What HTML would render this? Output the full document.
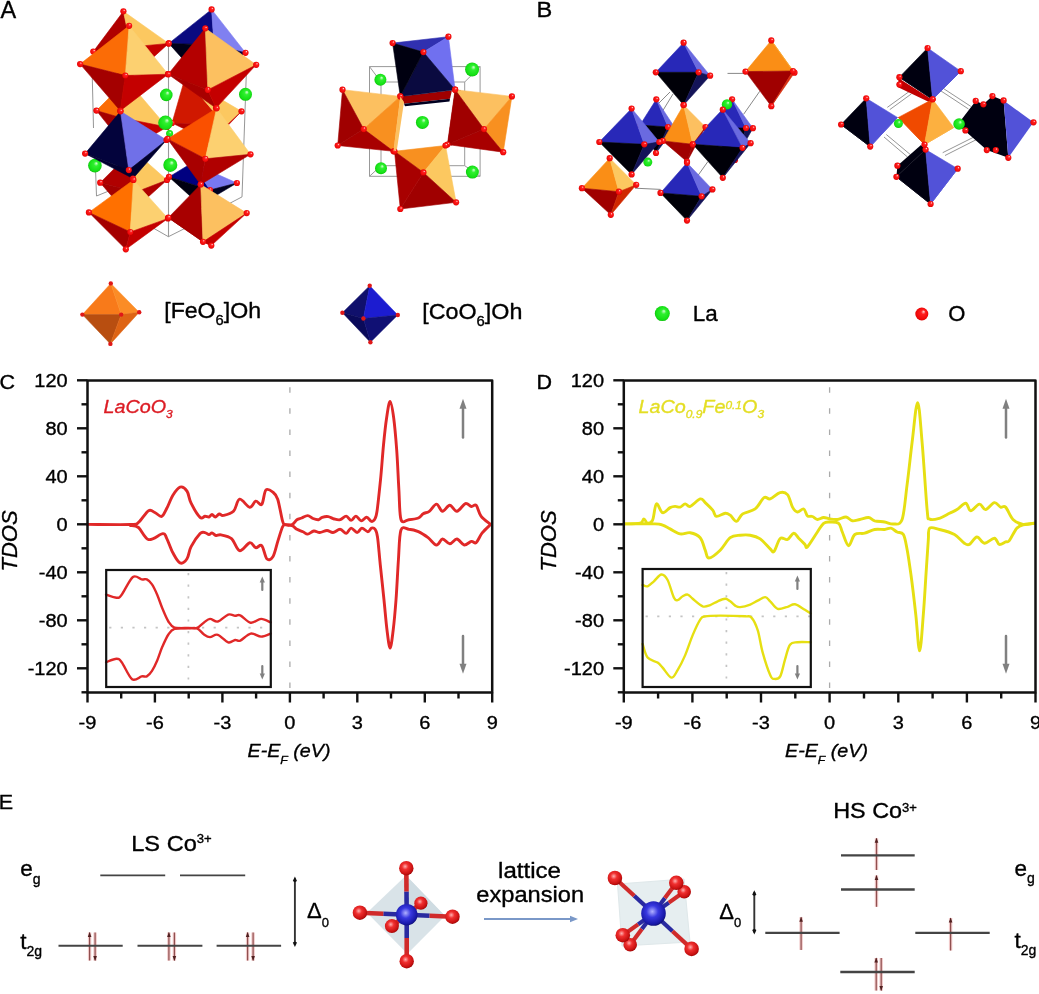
<!DOCTYPE html>
<html><head><meta charset="utf-8"><title>Figure</title>
<style>html,body{margin:0;padding:0;background:#fff;overflow:hidden;}svg{display:block;filter:blur(0.4px);}text{font-family:"Liberation Sans",Arial,sans-serif;stroke-width:0.35px;stroke-linejoin:round;}</style>
</head><body>
<svg width="1039" height="994" viewBox="0 0 1039 994">
<rect width="1039" height="994" fill="#fff"/>
<defs>
<radialGradient id="gO" cx="0.42" cy="0.38" r="0.62"><stop offset="0" stop-color="#ffb0b0"/><stop offset="0.35" stop-color="#f03030"/><stop offset="0.85" stop-color="#c81010"/><stop offset="1" stop-color="#a00808"/></radialGradient>
<radialGradient id="gOd" cx="0.5" cy="0.5" r="0.55" fx="0.66" fy="0.3"><stop offset="0" stop-color="#ffe0e0"/><stop offset="0.3" stop-color="#ff2020"/><stop offset="0.8" stop-color="#f00808"/><stop offset="1" stop-color="#d00000"/></radialGradient>
<radialGradient id="gCo" cx="0.45" cy="0.42" r="0.6"><stop offset="0" stop-color="#b0b0ff"/><stop offset="0.4" stop-color="#3838e0"/><stop offset="0.85" stop-color="#1818a8"/><stop offset="1" stop-color="#101070"/></radialGradient>
<radialGradient id="gLa" cx="0.5" cy="0.5" r="0.55" fx="0.62" fy="0.32"><stop offset="0" stop-color="#d8ffd8"/><stop offset="0.3" stop-color="#30f030"/><stop offset="0.8" stop-color="#14e014"/><stop offset="1" stop-color="#0cb00c"/></radialGradient>
</defs>
<path d="M92,66 L93.5,128" fill="none" stroke="#8a8a8a" stroke-width="0.9"/>
<path d="M95.2,160 L96.5,196 L119.8,186.5" fill="none" stroke="#8a8a8a" stroke-width="0.9"/>
<path d="M168.5,44 L168.5,236.7" fill="none" stroke="#9a9a9a" stroke-width="1.1"/>
<path d="M246.8,60 L242,196.9 L227.3,204.6" fill="none" stroke="#8a8a8a" stroke-width="0.9"/>
<path d="M144.1,222.8 L168.4,236.7 L190.9,225.4" fill="none" stroke="#8a8a8a" stroke-width="0.9"/>
<path d="M123.4,11.3 L93.3,51.6 L131,47 Z" fill="#b00000" stroke="#b00000" stroke-width="0.6" stroke-linejoin="round"/>
<path d="M123.4,11.3 L131,47 L168.7,43.4 Z" fill="#fcc860" stroke="#fcc860" stroke-width="0.6" stroke-linejoin="round"/>
<path d="M93.3,51.6 L131,47 L126,82 Z" fill="#a40000" stroke="#a40000" stroke-width="0.6" stroke-linejoin="round"/>
<path d="M131,47 L168.7,43.4 L126,82 Z" fill="#c40000" stroke="#c40000" stroke-width="0.6" stroke-linejoin="round"/>
<circle cx="123.4" cy="11.3" r="3.1" fill="url(#gOd)"/>
<circle cx="93.3" cy="51.6" r="3.1" fill="url(#gOd)"/>
<circle cx="168.7" cy="43.4" r="3.1" fill="url(#gOd)"/>
<circle cx="131" cy="47" r="3.1" fill="url(#gOd)"/>
<circle cx="126" cy="82" r="3.1" fill="url(#gOd)"/>
<path d="M211.6,9.4 L168.8,43.4 L214,45 Z" fill="#0a0a80" stroke="#0a0a80" stroke-width="0.6" stroke-linejoin="round"/>
<path d="M211.6,9.4 L214,45 L245.5,52.8 Z" fill="#8080f0" stroke="#8080f0" stroke-width="0.6" stroke-linejoin="round"/>
<path d="M168.8,43.4 L214,45 L206,85 Z" fill="#000018" stroke="#000018" stroke-width="0.6" stroke-linejoin="round"/>
<path d="M214,45 L245.5,52.8 L206,85 Z" fill="#000040" stroke="#000040" stroke-width="0.6" stroke-linejoin="round"/>
<circle cx="211.6" cy="9.4" r="3.1" fill="url(#gOd)"/>
<circle cx="168.8" cy="43.4" r="3.1" fill="url(#gOd)"/>
<circle cx="245.5" cy="52.8" r="3.1" fill="url(#gOd)"/>
<circle cx="214" cy="45" r="3.1" fill="url(#gOd)"/>
<circle cx="206" cy="85" r="3.1" fill="url(#gOd)"/>
<path d="M127,80 L96.4,110.6 L122,118 Z" fill="#fb6c06" stroke="#fb6c06" stroke-width="0.6" stroke-linejoin="round"/>
<path d="M127,80 L122,118 L167,127 Z" fill="#fcc860" stroke="#fcc860" stroke-width="0.6" stroke-linejoin="round"/>
<path d="M96.4,110.6 L122,118 L128,150 Z" fill="#a40000" stroke="#a40000" stroke-width="0.6" stroke-linejoin="round"/>
<path d="M122,118 L167,127 L128,150 Z" fill="#c40000" stroke="#c40000" stroke-width="0.6" stroke-linejoin="round"/>
<circle cx="127" cy="80" r="3.1" fill="url(#gOd)"/>
<circle cx="96.4" cy="110.6" r="3.1" fill="url(#gOd)"/>
<circle cx="167" cy="127" r="3.1" fill="url(#gOd)"/>
<circle cx="122" cy="118" r="3.1" fill="url(#gOd)"/>
<circle cx="128" cy="150" r="3.1" fill="url(#gOd)"/>
<path d="M185,78 L172,123 L226,126 Z" fill="#d01800" stroke="#d01800" stroke-width="0.6" stroke-linejoin="round"/>
<path d="M185,78 L226,126 L241.5,111.3 Z" fill="#fcc860" stroke="#fcc860" stroke-width="0.6" stroke-linejoin="round"/>
<path d="M172,123 L226,126 L212,142 Z" fill="#b00000" stroke="#b00000" stroke-width="0.6" stroke-linejoin="round"/>
<path d="M226,126 L241.5,111.3 L212,142 Z" fill="#c40000" stroke="#c40000" stroke-width="0.6" stroke-linejoin="round"/>
<circle cx="185" cy="78" r="3.1" fill="url(#gOd)"/>
<circle cx="172" cy="123" r="3.1" fill="url(#gOd)"/>
<circle cx="241.5" cy="111.3" r="3.1" fill="url(#gOd)"/>
<circle cx="226" cy="126" r="3.1" fill="url(#gOd)"/>
<circle cx="212" cy="142" r="3.1" fill="url(#gOd)"/>
<path d="M133,150 L100.2,182.7 L136,192 Z" fill="#b00000" stroke="#b00000" stroke-width="0.6" stroke-linejoin="round"/>
<path d="M133,150 L136,192 L167,180 Z" fill="#fcc860" stroke="#fcc860" stroke-width="0.6" stroke-linejoin="round"/>
<path d="M100.2,182.7 L136,192 L128,215 Z" fill="#a40000" stroke="#a40000" stroke-width="0.6" stroke-linejoin="round"/>
<path d="M136,192 L167,180 L128,215 Z" fill="#b00000" stroke="#b00000" stroke-width="0.6" stroke-linejoin="round"/>
<circle cx="133" cy="150" r="3.1" fill="url(#gOd)"/>
<circle cx="100.2" cy="182.7" r="3.1" fill="url(#gOd)"/>
<circle cx="167" cy="180" r="3.1" fill="url(#gOd)"/>
<circle cx="136" cy="192" r="3.1" fill="url(#gOd)"/>
<circle cx="128" cy="215" r="3.1" fill="url(#gOd)"/>
<path d="M192,163 L169,176.9 L210,190 Z" fill="#000080" stroke="#000080" stroke-width="0.6" stroke-linejoin="round"/>
<path d="M192,163 L210,190 L236.9,183 Z" fill="#7878f0" stroke="#7878f0" stroke-width="0.6" stroke-linejoin="round"/>
<path d="M169,176.9 L210,190 L200,205 Z" fill="#000010" stroke="#000010" stroke-width="0.6" stroke-linejoin="round"/>
<path d="M210,190 L236.9,183 L200,205 Z" fill="#000020" stroke="#000020" stroke-width="0.6" stroke-linejoin="round"/>
<circle cx="192" cy="163" r="3.1" fill="url(#gOd)"/>
<circle cx="169" cy="176.9" r="3.1" fill="url(#gOd)"/>
<circle cx="236.9" cy="183" r="3.1" fill="url(#gOd)"/>
<circle cx="210" cy="190" r="3.1" fill="url(#gOd)"/>
<circle cx="200" cy="205" r="3.1" fill="url(#gOd)"/>
<circle cx="166.3" cy="94.9" r="6.3" fill="url(#gLa)"/>
<circle cx="245.5" cy="94.3" r="6.5" fill="url(#gLa)"/>
<circle cx="165.5" cy="122.8" r="7.3" fill="url(#gLa)"/>
<circle cx="169.6" cy="133.5" r="3.5" fill="url(#gLa)"/>
<circle cx="94.9" cy="165.6" r="6.8" fill="url(#gLa)"/>
<circle cx="170.3" cy="164.9" r="7.0" fill="url(#gLa)"/>
<path d="M129.1,25.8 L80.1,64.1 L125.3,75.5 Z" fill="#fb6c06" stroke="#fb6c06" stroke-width="0.6" stroke-linejoin="round"/>
<path d="M129.1,25.8 L125.3,75.5 L168.1,74.2 Z" fill="#fcd070" stroke="#fcd070" stroke-width="0.6" stroke-linejoin="round"/>
<path d="M80.1,64.1 L125.3,75.5 L120.3,110.7 Z" fill="#a40000" stroke="#a40000" stroke-width="0.6" stroke-linejoin="round"/>
<path d="M125.3,75.5 L168.1,74.2 L120.3,110.7 Z" fill="#c40000" stroke="#c40000" stroke-width="0.6" stroke-linejoin="round"/>
<circle cx="129.1" cy="25.8" r="3.1" fill="url(#gOd)"/>
<circle cx="80.1" cy="64.1" r="3.1" fill="url(#gOd)"/>
<circle cx="168.1" cy="74.2" r="3.1" fill="url(#gOd)"/>
<circle cx="125.3" cy="75.5" r="3.1" fill="url(#gOd)"/>
<circle cx="120.3" cy="110.7" r="3.1" fill="url(#gOd)"/>
<path d="M205.3,28.3 L168.2,74.2 L207.8,89.9 Z" fill="#b40000" stroke="#b40000" stroke-width="0.6" stroke-linejoin="round"/>
<path d="M205.3,28.3 L207.8,89.9 L256.2,64.8 Z" fill="#fcc060" stroke="#fcc060" stroke-width="0.6" stroke-linejoin="round"/>
<path d="M168.2,74.2 L207.8,89.9 L216,108.1 Z" fill="#a80000" stroke="#a80000" stroke-width="0.6" stroke-linejoin="round"/>
<path d="M207.8,89.9 L256.2,64.8 L216,108.1 Z" fill="#c40000" stroke="#c40000" stroke-width="0.6" stroke-linejoin="round"/>
<circle cx="205.3" cy="28.3" r="3.1" fill="url(#gOd)"/>
<circle cx="168.2" cy="74.2" r="3.1" fill="url(#gOd)"/>
<circle cx="256.2" cy="64.8" r="3.1" fill="url(#gOd)"/>
<circle cx="207.8" cy="89.9" r="3.1" fill="url(#gOd)"/>
<circle cx="216" cy="108.1" r="3.1" fill="url(#gOd)"/>
<path d="M120.5,111.3 L85.1,153.6 L128.8,170.1 Z" fill="#03033c" stroke="#03033c" stroke-width="0.6" stroke-linejoin="round"/>
<path d="M120.5,111.3 L128.8,170.1 L166.5,140 Z" fill="#7070e8" stroke="#7070e8" stroke-width="0.6" stroke-linejoin="round"/>
<path d="M85.1,153.6 L128.8,170.1 L133,178.5 Z" fill="#000030" stroke="#000030" stroke-width="0.6" stroke-linejoin="round"/>
<path d="M128.8,170.1 L166.5,140 L133,178.5 Z" fill="#000030" stroke="#000030" stroke-width="0.6" stroke-linejoin="round"/>
<circle cx="120.5" cy="111.3" r="3.1" fill="url(#gOd)"/>
<circle cx="85.1" cy="153.6" r="3.1" fill="url(#gOd)"/>
<circle cx="166.5" cy="140" r="3.1" fill="url(#gOd)"/>
<circle cx="128.8" cy="170.1" r="3.1" fill="url(#gOd)"/>
<circle cx="133" cy="178.5" r="3.1" fill="url(#gOd)"/>
<path d="M216.6,108.3 L167.5,138.9 L205.3,158.8 Z" fill="#fa5000" stroke="#fa5000" stroke-width="0.6" stroke-linejoin="round"/>
<path d="M216.6,108.3 L205.3,158.8 L250.5,154.3 Z" fill="#fcd070" stroke="#fcd070" stroke-width="0.6" stroke-linejoin="round"/>
<path d="M167.5,138.9 L205.3,158.8 L200.7,184.5 Z" fill="#a80000" stroke="#a80000" stroke-width="0.6" stroke-linejoin="round"/>
<path d="M205.3,158.8 L250.5,154.3 L200.7,184.5 Z" fill="#b00000" stroke="#b00000" stroke-width="0.6" stroke-linejoin="round"/>
<circle cx="216.6" cy="108.3" r="3.1" fill="url(#gOd)"/>
<circle cx="167.5" cy="138.9" r="3.1" fill="url(#gOd)"/>
<circle cx="250.5" cy="154.3" r="3.1" fill="url(#gOd)"/>
<circle cx="205.3" cy="158.8" r="3.1" fill="url(#gOd)"/>
<circle cx="200.7" cy="184.5" r="3.1" fill="url(#gOd)"/>
<path d="M133.4,180 L88.9,212.4 L130.3,232 Z" fill="#ff7000" stroke="#ff7000" stroke-width="0.6" stroke-linejoin="round"/>
<path d="M133.4,180 L130.3,232 L168,218.4 Z" fill="#fcd070" stroke="#fcd070" stroke-width="0.6" stroke-linejoin="round"/>
<path d="M88.9,212.4 L130.3,232 L125.8,249.3 Z" fill="#a40000" stroke="#a40000" stroke-width="0.6" stroke-linejoin="round"/>
<path d="M130.3,232 L168,218.4 L125.8,249.3 Z" fill="#c40000" stroke="#c40000" stroke-width="0.6" stroke-linejoin="round"/>
<circle cx="133.4" cy="180" r="3.1" fill="url(#gOd)"/>
<circle cx="88.9" cy="212.4" r="3.1" fill="url(#gOd)"/>
<circle cx="168" cy="218.4" r="3.1" fill="url(#gOd)"/>
<circle cx="130.3" cy="232" r="3.1" fill="url(#gOd)"/>
<circle cx="125.8" cy="249.3" r="3.1" fill="url(#gOd)"/>
<path d="M200.7,184.5 L168.3,217.7 L203,241.8 Z" fill="#a80000" stroke="#a80000" stroke-width="0.6" stroke-linejoin="round"/>
<path d="M200.7,184.5 L203,241.8 L246.7,213.1 Z" fill="#fcc060" stroke="#fcc060" stroke-width="0.6" stroke-linejoin="round"/>
<path d="M168.3,217.7 L203,241.8 L211.3,245.6 Z" fill="#a40000" stroke="#a40000" stroke-width="0.6" stroke-linejoin="round"/>
<path d="M203,241.8 L246.7,213.1 L211.3,245.6 Z" fill="#c40000" stroke="#c40000" stroke-width="0.6" stroke-linejoin="round"/>
<circle cx="200.7" cy="184.5" r="3.1" fill="url(#gOd)"/>
<circle cx="168.3" cy="217.7" r="3.1" fill="url(#gOd)"/>
<circle cx="246.7" cy="213.1" r="3.1" fill="url(#gOd)"/>
<circle cx="203" cy="241.8" r="3.1" fill="url(#gOd)"/>
<circle cx="211.3" cy="245.6" r="3.1" fill="url(#gOd)"/>
<path d="M369.5,66.6 L480.1,66.6 L480.1,176.3 L369.5,176.3 L369.5,66.6" fill="none" stroke="#999" stroke-width="1.0"/>
<path d="M381,82 L464.7,82 L464.7,165.7 L381,165.7 L381,82" fill="none" stroke="#999" stroke-width="1.0"/>
<path d="M369.5,66.6 L381,82" fill="none" stroke="#999" stroke-width="1.0"/>
<path d="M480.1,66.6 L464.7,82" fill="none" stroke="#999" stroke-width="1.0"/>
<path d="M480.1,176.3 L464.7,165.7" fill="none" stroke="#999" stroke-width="1.0"/>
<path d="M369.5,176.3 L381,165.7" fill="none" stroke="#999" stroke-width="1.0"/>
<circle cx="380.4" cy="79.7" r="6.0" fill="url(#gLa)"/>
<circle cx="472.1" cy="69.5" r="7.0" fill="url(#gLa)"/>
<circle cx="381" cy="168.2" r="6.0" fill="url(#gLa)"/>
<circle cx="472.4" cy="172.1" r="6.5" fill="url(#gLa)"/>
<path d="M400.3,96.4 L452,90.2 L450,98.8 L404,103.8 Z" fill="#a00000"/>
<path d="M404,103.8 L450,98.8 L449.5,101.5 L405,106.3 Z" fill="#000020"/>
<path d="M392.6,43.1 L448.4,36.7 L423.4,52.1 Z" fill="#3030b0" stroke="#3030b0" stroke-width="0.6" stroke-linejoin="round"/>
<path d="M448.4,36.7 L455.1,89.7 L423.4,52.1 Z" fill="#7070f0" stroke="#7070f0" stroke-width="0.6" stroke-linejoin="round"/>
<path d="M455.1,89.7 L400.3,96.4 L423.4,52.1 Z" fill="#0a0a40" stroke="#0a0a40" stroke-width="0.6" stroke-linejoin="round"/>
<path d="M400.3,96.4 L392.6,43.1 L423.4,52.1 Z" fill="#000010" stroke="#000010" stroke-width="0.6" stroke-linejoin="round"/>
<circle cx="392.6" cy="43.1" r="3.1" fill="url(#gOd)"/>
<circle cx="448.4" cy="36.7" r="3.1" fill="url(#gOd)"/>
<circle cx="455.1" cy="89.7" r="3.1" fill="url(#gOd)"/>
<circle cx="400.3" cy="96.4" r="3.1" fill="url(#gOd)"/>
<circle cx="423.4" cy="52.1" r="3.1" fill="url(#gOd)"/>
<path d="M342.5,89.7 L400.3,96.4 L363.7,129.1 Z" fill="#fcc060" stroke="#fcc060" stroke-width="0.6" stroke-linejoin="round"/>
<path d="M400.3,96.4 L393.5,151.3 L363.7,129.1 Z" fill="#f89020" stroke="#f89020" stroke-width="0.6" stroke-linejoin="round"/>
<path d="M393.5,151.3 L337.7,145.5 L363.7,129.1 Z" fill="#a80000" stroke="#a80000" stroke-width="0.6" stroke-linejoin="round"/>
<path d="M337.7,145.5 L342.5,89.7 L363.7,129.1 Z" fill="#a00000" stroke="#a00000" stroke-width="0.6" stroke-linejoin="round"/>
<circle cx="342.5" cy="89.7" r="3.1" fill="url(#gOd)"/>
<circle cx="400.3" cy="96.4" r="3.1" fill="url(#gOd)"/>
<circle cx="393.5" cy="151.3" r="3.1" fill="url(#gOd)"/>
<circle cx="337.7" cy="145.5" r="3.1" fill="url(#gOd)"/>
<circle cx="363.7" cy="129.1" r="3.1" fill="url(#gOd)"/>
<path d="M447.4,144.5 L455.1,89.7 L461,90.5 L452,145.5 Z" fill="#a00000"/>
<path d="M455.1,89.7 L511.9,96.4 L484,129.1 Z" fill="#fcc060" stroke="#fcc060" stroke-width="0.6" stroke-linejoin="round"/>
<path d="M511.9,96.4 L503.2,152.2 L484,129.1 Z" fill="#f89020" stroke="#f89020" stroke-width="0.6" stroke-linejoin="round"/>
<path d="M503.2,152.2 L447.4,144.5 L484,129.1 Z" fill="#a80000" stroke="#a80000" stroke-width="0.6" stroke-linejoin="round"/>
<path d="M447.4,144.5 L455.1,89.7 L484,129.1 Z" fill="#a00000" stroke="#a00000" stroke-width="0.6" stroke-linejoin="round"/>
<circle cx="455.1" cy="89.7" r="3.1" fill="url(#gOd)"/>
<circle cx="511.9" cy="96.4" r="3.1" fill="url(#gOd)"/>
<circle cx="503.2" cy="152.2" r="3.1" fill="url(#gOd)"/>
<circle cx="447.4" cy="144.5" r="3.1" fill="url(#gOd)"/>
<circle cx="484" cy="129.1" r="3.1" fill="url(#gOd)"/>
<path d="M394.5,151.3 L445.5,145.5 L423.4,172.4 Z" fill="#f89020" stroke="#f89020" stroke-width="0.6" stroke-linejoin="round"/>
<path d="M445.5,145.5 L456.1,202.3 L423.4,172.4 Z" fill="#fcc860" stroke="#fcc860" stroke-width="0.6" stroke-linejoin="round"/>
<path d="M456.1,202.3 L400.3,209 L423.4,172.4 Z" fill="#a00000" stroke="#a00000" stroke-width="0.6" stroke-linejoin="round"/>
<path d="M400.3,209 L394.5,151.3 L423.4,172.4 Z" fill="#a80000" stroke="#a80000" stroke-width="0.6" stroke-linejoin="round"/>
<circle cx="394.5" cy="151.3" r="3.1" fill="url(#gOd)"/>
<circle cx="445.5" cy="145.5" r="3.1" fill="url(#gOd)"/>
<circle cx="456.1" cy="202.3" r="3.1" fill="url(#gOd)"/>
<circle cx="400.3" cy="209" r="3.1" fill="url(#gOd)"/>
<circle cx="423.4" cy="172.4" r="3.1" fill="url(#gOd)"/>
<path d="M400.3,96.4 L404,102 L397,149 L393.5,151.3 Z" fill="#fcc060"/>
<circle cx="422.4" cy="122.4" r="6.5" fill="url(#gLa)"/>
<path d="M727.5,73.4 L746,73.4" fill="none" stroke="#888" stroke-width="1.0"/>
<path d="M743.6,114.3 L759.8,91.2" fill="none" stroke="#888" stroke-width="1.0"/>
<path d="M635,188.2 L660.5,189.4" fill="none" stroke="#888" stroke-width="1.0"/>
<path d="M696.3,177.8 L707.8,161.7" fill="none" stroke="#888" stroke-width="1.0"/>
<path d="M670,92 L650,112" fill="none" stroke="#888" stroke-width="1.0"/>
<path d="M673,94 L662,112" fill="none" stroke="#888" stroke-width="1.0"/>
<path d="M656.3,99.3 L640,125 L668,127 Z" fill="#2828b8" stroke="#2828b8" stroke-width="0.6" stroke-linejoin="round"/>
<path d="M656.3,99.3 L668,127 L675,128 Z" fill="#6a6ae0" stroke="#6a6ae0" stroke-width="0.6" stroke-linejoin="round"/>
<path d="M640,125 L668,127 L656,153 Z" fill="#000008" stroke="#000008" stroke-width="0.6" stroke-linejoin="round"/>
<path d="M668,127 L675,128 L656,153 Z" fill="#141458" stroke="#141458" stroke-width="0.6" stroke-linejoin="round"/>
<circle cx="656.3" cy="99.3" r="3.1" fill="url(#gOd)"/>
<circle cx="640" cy="125" r="3.1" fill="url(#gOd)"/>
<circle cx="675" cy="128" r="3.1" fill="url(#gOd)"/>
<circle cx="668" cy="127" r="3.1" fill="url(#gOd)"/>
<circle cx="656" cy="153" r="3.1" fill="url(#gOd)"/>
<path d="M732.1,99.3 L705,128 L746,128 Z" fill="#2828b8" stroke="#2828b8" stroke-width="0.6" stroke-linejoin="round"/>
<path d="M732.1,99.3 L746,128 L752.9,128.2 Z" fill="#6a6ae0" stroke="#6a6ae0" stroke-width="0.6" stroke-linejoin="round"/>
<path d="M705,128 L746,128 L735,160 Z" fill="#000008" stroke="#000008" stroke-width="0.6" stroke-linejoin="round"/>
<path d="M746,128 L752.9,128.2 L735,160 Z" fill="#141458" stroke="#141458" stroke-width="0.6" stroke-linejoin="round"/>
<circle cx="732.1" cy="99.3" r="3.1" fill="url(#gOd)"/>
<circle cx="705" cy="128" r="3.1" fill="url(#gOd)"/>
<circle cx="752.9" cy="128.2" r="3.1" fill="url(#gOd)"/>
<circle cx="746" cy="128" r="3.1" fill="url(#gOd)"/>
<circle cx="735" cy="160" r="3.1" fill="url(#gOd)"/>
<circle cx="727" cy="104.4" r="5.2" fill="url(#gLa)"/>
<path d="M683.6,42.7 L655.8,72.3 L698.6,72.3 Z" fill="#2828b8" stroke="#2828b8" stroke-width="0.6" stroke-linejoin="round"/>
<path d="M683.6,42.7 L698.6,72.3 L710.1,75.7 Z" fill="#6a6ae0" stroke="#6a6ae0" stroke-width="0.6" stroke-linejoin="round"/>
<path d="M655.8,72.3 L698.6,72.3 L683.6,105.1 Z" fill="#000008" stroke="#000008" stroke-width="0.6" stroke-linejoin="round"/>
<path d="M698.6,72.3 L710.1,75.7 L683.6,105.1 Z" fill="#141458" stroke="#141458" stroke-width="0.6" stroke-linejoin="round"/>
<circle cx="683.6" cy="42.7" r="3.1" fill="url(#gOd)"/>
<circle cx="655.8" cy="72.3" r="3.1" fill="url(#gOd)"/>
<circle cx="710.1" cy="75.7" r="3.1" fill="url(#gOd)"/>
<circle cx="698.6" cy="72.3" r="3.1" fill="url(#gOd)"/>
<circle cx="683.6" cy="105.1" r="3.1" fill="url(#gOd)"/>
<path d="M771.3,40.4 L745.5,71.6 L793,71 Z" fill="#fa8e16" stroke="#fa8e16" stroke-width="0.6" stroke-linejoin="round"/>
<path d="M771.3,40.4 L793,71 L794.5,72.7 Z" fill="#f8a830" stroke="#f8a830" stroke-width="0.6" stroke-linejoin="round"/>
<path d="M745.5,71.6 L793,71 L771.3,106.2 Z" fill="#a00000" stroke="#a00000" stroke-width="0.6" stroke-linejoin="round"/>
<path d="M793,71 L794.5,72.7 L771.3,106.2 Z" fill="#d83010" stroke="#d83010" stroke-width="0.6" stroke-linejoin="round"/>
<circle cx="771.3" cy="40.4" r="3.1" fill="url(#gOd)"/>
<circle cx="745.5" cy="71.6" r="3.1" fill="url(#gOd)"/>
<circle cx="794.5" cy="72.7" r="3.1" fill="url(#gOd)"/>
<circle cx="793" cy="71" r="3.1" fill="url(#gOd)"/>
<circle cx="771.3" cy="106.2" r="3.1" fill="url(#gOd)"/>
<path d="M683.6,105.1 L662.8,140.9 L692.8,144.3 Z" fill="#fa8e16" stroke="#fa8e16" stroke-width="0.6" stroke-linejoin="round"/>
<path d="M683.6,105.1 L692.8,144.3 L705.5,127 Z" fill="#fcc060" stroke="#fcc060" stroke-width="0.6" stroke-linejoin="round"/>
<path d="M662.8,140.9 L692.8,144.3 L687,161.7 Z" fill="#a00000" stroke="#a00000" stroke-width="0.6" stroke-linejoin="round"/>
<path d="M692.8,144.3 L705.5,127 L687,161.7 Z" fill="#a00000" stroke="#a00000" stroke-width="0.6" stroke-linejoin="round"/>
<circle cx="683.6" cy="105.1" r="3.1" fill="url(#gOd)"/>
<circle cx="662.8" cy="140.9" r="3.1" fill="url(#gOd)"/>
<circle cx="705.5" cy="127" r="3.1" fill="url(#gOd)"/>
<circle cx="692.8" cy="144.3" r="3.1" fill="url(#gOd)"/>
<circle cx="687" cy="161.7" r="3.1" fill="url(#gOd)"/>
<path d="M631.6,108.5 L599.3,142 L644.3,144.3 Z" fill="#2828b8" stroke="#2828b8" stroke-width="0.6" stroke-linejoin="round"/>
<path d="M631.6,108.5 L644.3,144.3 L659.3,142 Z" fill="#6a6ae0" stroke="#6a6ae0" stroke-width="0.6" stroke-linejoin="round"/>
<path d="M599.3,142 L644.3,144.3 L631.6,174.4 Z" fill="#000008" stroke="#000008" stroke-width="0.6" stroke-linejoin="round"/>
<path d="M644.3,144.3 L659.3,142 L631.6,174.4 Z" fill="#141458" stroke="#141458" stroke-width="0.6" stroke-linejoin="round"/>
<circle cx="631.6" cy="108.5" r="3.1" fill="url(#gOd)"/>
<circle cx="599.3" cy="142" r="3.1" fill="url(#gOd)"/>
<circle cx="659.3" cy="142" r="3.1" fill="url(#gOd)"/>
<circle cx="644.3" cy="144.3" r="3.1" fill="url(#gOd)"/>
<circle cx="631.6" cy="174.4" r="3.1" fill="url(#gOd)"/>
<path d="M722.8,109.7 L692.8,144.3 L742.5,147.8 Z" fill="#2828b8" stroke="#2828b8" stroke-width="0.6" stroke-linejoin="round"/>
<path d="M722.8,109.7 L742.5,147.8 L750.6,143.2 Z" fill="#6a6ae0" stroke="#6a6ae0" stroke-width="0.6" stroke-linejoin="round"/>
<path d="M692.8,144.3 L742.5,147.8 L722.8,177.8 Z" fill="#000008" stroke="#000008" stroke-width="0.6" stroke-linejoin="round"/>
<path d="M742.5,147.8 L750.6,143.2 L722.8,177.8 Z" fill="#141458" stroke="#141458" stroke-width="0.6" stroke-linejoin="round"/>
<circle cx="722.8" cy="109.7" r="3.1" fill="url(#gOd)"/>
<circle cx="692.8" cy="144.3" r="3.1" fill="url(#gOd)"/>
<circle cx="750.6" cy="143.2" r="3.1" fill="url(#gOd)"/>
<circle cx="742.5" cy="147.8" r="3.1" fill="url(#gOd)"/>
<circle cx="722.8" cy="177.8" r="3.1" fill="url(#gOd)"/>
<circle cx="647.8" cy="162.1" r="4.5" fill="url(#gLa)"/>
<path d="M609.7,158.2 L581.9,188.2 L618.9,191.7 Z" fill="#fa8e16" stroke="#fa8e16" stroke-width="0.6" stroke-linejoin="round"/>
<path d="M609.7,158.2 L618.9,191.7 L636.2,184.8 Z" fill="#fcc860" stroke="#fcc860" stroke-width="0.6" stroke-linejoin="round"/>
<path d="M581.9,188.2 L618.9,191.7 L610.8,214.8 Z" fill="#a00000" stroke="#a00000" stroke-width="0.6" stroke-linejoin="round"/>
<path d="M618.9,191.7 L636.2,184.8 L610.8,214.8 Z" fill="#d02800" stroke="#d02800" stroke-width="0.6" stroke-linejoin="round"/>
<circle cx="609.7" cy="158.2" r="3.1" fill="url(#gOd)"/>
<circle cx="581.9" cy="188.2" r="3.1" fill="url(#gOd)"/>
<circle cx="636.2" cy="184.8" r="3.1" fill="url(#gOd)"/>
<circle cx="618.9" cy="191.7" r="3.1" fill="url(#gOd)"/>
<circle cx="610.8" cy="214.8" r="3.1" fill="url(#gOd)"/>
<path d="M687,162.8 L660.5,192.9 L701.6,196.3 Z" fill="#2828b8" stroke="#2828b8" stroke-width="0.6" stroke-linejoin="round"/>
<path d="M687,162.8 L701.6,196.3 L712.4,189.4 Z" fill="#6a6ae0" stroke="#6a6ae0" stroke-width="0.6" stroke-linejoin="round"/>
<path d="M660.5,192.9 L701.6,196.3 L687,220.6 Z" fill="#000008" stroke="#000008" stroke-width="0.6" stroke-linejoin="round"/>
<path d="M701.6,196.3 L712.4,189.4 L687,220.6 Z" fill="#141458" stroke="#141458" stroke-width="0.6" stroke-linejoin="round"/>
<circle cx="687" cy="162.8" r="3.1" fill="url(#gOd)"/>
<circle cx="660.5" cy="192.9" r="3.1" fill="url(#gOd)"/>
<circle cx="712.4" cy="189.4" r="3.1" fill="url(#gOd)"/>
<circle cx="701.6" cy="196.3" r="3.1" fill="url(#gOd)"/>
<circle cx="687" cy="220.6" r="3.1" fill="url(#gOd)"/>
<path d="M887.3,107.4 L909.5,91.3" fill="none" stroke="#8a8a8a" stroke-width="0.9"/>
<path d="M889.8,109.6 L911.5,93.8" fill="none" stroke="#8a8a8a" stroke-width="0.9"/>
<path d="M941.6,87.3 L970.8,106.4" fill="none" stroke="#8a8a8a" stroke-width="0.9"/>
<path d="M939.8,90.2 L968.5,109" fill="none" stroke="#8a8a8a" stroke-width="0.9"/>
<path d="M886.3,134.5 L910.5,154.7" fill="none" stroke="#8a8a8a" stroke-width="0.9"/>
<path d="M884,137 L907.5,157" fill="none" stroke="#8a8a8a" stroke-width="0.9"/>
<path d="M942.7,152.7 L974.8,136.6" fill="none" stroke="#8a8a8a" stroke-width="0.9"/>
<path d="M945,155.5 L977,139.3" fill="none" stroke="#8a8a8a" stroke-width="0.9"/>
<path d="M898.3,78 L933.1,100.3 L931.6,103.2 L898.6,87.6 Z" fill="#c00000"/>
<circle cx="899.4" cy="84.6" r="3.1" fill="url(#gOd)"/>
<path d="M927.6,48 L899.4,77.2 L932.6,99.3 Z" fill="#000010" stroke="#000010" stroke-width="0.6" stroke-linejoin="round"/>
<path d="M927.6,48 L932.6,99.3 L960.8,71.2 Z" fill="#5252d8" stroke="#5252d8" stroke-width="0.6" stroke-linejoin="round"/>
<path d="M899.4,77.2 L932.6,99.3 L932.6,99.3 Z" fill="#000010" stroke="#000010" stroke-width="0.6" stroke-linejoin="round"/>
<path d="M932.6,99.3 L960.8,71.2 L932.6,99.3 Z" fill="#5252d8" stroke="#5252d8" stroke-width="0.6" stroke-linejoin="round"/>
<circle cx="927.6" cy="48" r="3.1" fill="url(#gOd)"/>
<circle cx="899.4" cy="77.2" r="3.1" fill="url(#gOd)"/>
<circle cx="960.8" cy="71.2" r="3.1" fill="url(#gOd)"/>
<circle cx="932.6" cy="99.3" r="3.1" fill="url(#gOd)"/>
<path d="M957.7,124.4 L975.7,100.9 L983.4,104.3 L992.4,96.1 L1003.6,100.4 L1008.3,157.8 L986.8,150.1 Z" fill="#000010"/>
<path d="M1003.6,100.4 L1033.5,122.3 L1008.3,157.8 Z" fill="#5252d8"/>
<circle cx="975.7" cy="100.9" r="3.1" fill="url(#gOd)"/>
<circle cx="983.4" cy="104.3" r="3.1" fill="url(#gOd)"/>
<circle cx="992.4" cy="96.1" r="3.1" fill="url(#gOd)"/>
<circle cx="1003.6" cy="100.4" r="3.1" fill="url(#gOd)"/>
<circle cx="1033.5" cy="122.3" r="3.1" fill="url(#gOd)"/>
<circle cx="1008.3" cy="157.8" r="3.1" fill="url(#gOd)"/>
<circle cx="986.8" cy="150.1" r="3.1" fill="url(#gOd)"/>
<circle cx="995.8" cy="150.1" r="3.1" fill="url(#gOd)"/>
<circle cx="965.4" cy="130.4" r="3.1" fill="url(#gOd)"/>
<path d="M921,145 L925.6,149.6 L896.4,176.8 L897.4,165.7 Z" fill="#000010"/>
<path d="M925.6,149.6 L896.4,176.8 L930.6,204 Z" fill="#000010" stroke="#000010" stroke-width="0.6" stroke-linejoin="round"/>
<path d="M925.6,149.6 L930.6,204 L957.7,168.7 Z" fill="#5252d8" stroke="#5252d8" stroke-width="0.6" stroke-linejoin="round"/>
<path d="M896.4,176.8 L930.6,204 L930.6,204 Z" fill="#000010" stroke="#000010" stroke-width="0.6" stroke-linejoin="round"/>
<path d="M930.6,204 L957.7,168.7 L930.6,204 Z" fill="#5252d8" stroke="#5252d8" stroke-width="0.6" stroke-linejoin="round"/>
<circle cx="925.6" cy="149.6" r="3.1" fill="url(#gOd)"/>
<circle cx="896.4" cy="176.8" r="3.1" fill="url(#gOd)"/>
<circle cx="957.7" cy="168.7" r="3.1" fill="url(#gOd)"/>
<circle cx="930.6" cy="204" r="3.1" fill="url(#gOd)"/>
<circle cx="897.4" cy="165.7" r="3.1" fill="url(#gOd)"/>
<path d="M866.2,98.3 L841.1,124.5 L870.2,146.6 Z" fill="#000010" stroke="#000010" stroke-width="0.6" stroke-linejoin="round"/>
<path d="M866.2,98.3 L870.2,146.6 L897.4,117.4 Z" fill="#5252d8" stroke="#5252d8" stroke-width="0.6" stroke-linejoin="round"/>
<path d="M841.1,124.5 L870.2,146.6 L870.2,146.6 Z" fill="#000010" stroke="#000010" stroke-width="0.6" stroke-linejoin="round"/>
<path d="M870.2,146.6 L897.4,117.4 L870.2,146.6 Z" fill="#5252d8" stroke="#5252d8" stroke-width="0.6" stroke-linejoin="round"/>
<circle cx="866.2" cy="98.3" r="3.1" fill="url(#gOd)"/>
<circle cx="841.1" cy="124.5" r="3.1" fill="url(#gOd)"/>
<circle cx="870.2" cy="146.6" r="3.1" fill="url(#gOd)"/>
<path d="M932.6,99.3 L898.4,117.4 L924.5,144.6 Z" fill="#f04a00" stroke="#f04a00" stroke-width="0.6" stroke-linejoin="round"/>
<path d="M932.6,99.3 L924.5,144.6 L953.7,127.5 Z" fill="#fcb040" stroke="#fcb040" stroke-width="0.6" stroke-linejoin="round"/>
<path d="M898.4,117.4 L924.5,144.6 L924.5,144.6 Z" fill="#f04a00" stroke="#f04a00" stroke-width="0.6" stroke-linejoin="round"/>
<path d="M924.5,144.6 L953.7,127.5 L924.5,144.6 Z" fill="#fcb040" stroke="#fcb040" stroke-width="0.6" stroke-linejoin="round"/>
<circle cx="932.6" cy="99.3" r="3.1" fill="url(#gOd)"/>
<circle cx="924.5" cy="144.6" r="3.1" fill="url(#gOd)"/>
<circle cx="898.4" cy="123.5" r="4.5" fill="url(#gLa)"/>
<circle cx="959.1" cy="124" r="5.8" fill="url(#gLa)"/>
<path d="M110.8,283.4 L82.4,314.6 L121.2,314.6 Z" fill="#f87a1a" stroke="#f87a1a" stroke-width="0.5" stroke-linejoin="round"/>
<path d="M110.8,283.4 L121.2,314.6 L139.2,312.3 Z" fill="#fb8c26" stroke="#fb8c26" stroke-width="0.5" stroke-linejoin="round"/>
<path d="M82.4,314.6 L121.2,314.6 L110.4,343.9 Z" fill="#b84e10" stroke="#b84e10" stroke-width="0.5" stroke-linejoin="round"/>
<path d="M121.2,314.6 L139.2,312.3 L110.4,343.9 Z" fill="#de6414" stroke="#de6414" stroke-width="0.5" stroke-linejoin="round"/>
<circle cx="110.8" cy="283.4" r="2.2" fill="#e01818"/>
<circle cx="82.4" cy="314.6" r="2.2" fill="#e01818"/>
<circle cx="139.2" cy="312.3" r="2.2" fill="#e01818"/>
<circle cx="110.4" cy="343.9" r="2.2" fill="#e01818"/>
<circle cx="121.2" cy="314.6" r="2.2" fill="#e01818"/>
<path d="M369.7,285.7 L342.4,312.7 L363.4,318.5 Z" fill="#10106c" stroke="#10106c" stroke-width="0.5" stroke-linejoin="round"/>
<path d="M369.7,285.7 L363.4,318.5 L397.8,315 Z" fill="#1c1cd0" stroke="#1c1cd0" stroke-width="0.5" stroke-linejoin="round"/>
<path d="M342.4,312.7 L363.4,318.5 L370.4,342.3 Z" fill="#0a0a5a" stroke="#0a0a5a" stroke-width="0.5" stroke-linejoin="round"/>
<path d="M363.4,318.5 L397.8,315 L370.4,342.3 Z" fill="#101074" stroke="#101074" stroke-width="0.5" stroke-linejoin="round"/>
<circle cx="369.7" cy="285.7" r="2.2" fill="#e01818"/>
<circle cx="342.4" cy="312.7" r="2.2" fill="#e01818"/>
<circle cx="397.8" cy="315" r="2.2" fill="#e01818"/>
<circle cx="370.4" cy="342.3" r="2.2" fill="#e01818"/>
<circle cx="363.4" cy="318.5" r="2.2" fill="#e01818"/>
<text transform="translate(164.2,318.1) scale(1.052,1)" font-size="22" fill="#000" stroke="#000">[FeO<tspan font-size="14" dy="6.5">6</tspan><tspan dy="-6.5">]Oh</tspan></text>
<text transform="translate(422.2,319.4) scale(1.06,1)" font-size="22" fill="#000" stroke="#000">[CoO<tspan font-size="14" dy="6.5">6</tspan><tspan dy="-6.5">]Oh</tspan></text>
<circle cx="662.3" cy="313.6" r="7.5" fill="url(#gLa)"/>
<circle cx="921.8" cy="314" r="6.5" fill="url(#gOd)"/>
<text transform="translate(692.8,320.7) scale(1.02,1)" font-size="22" fill="#000" stroke="#000">La</text>
<text transform="translate(948.2,320.9) scale(1.0,1)" font-size="22" fill="#000" stroke="#000">O</text>
<text transform="translate(0.6,17.5) scale(1.02,1)" font-size="23" text-anchor="start" fill="#000" style=""  stroke="#000">A</text>
<text transform="translate(536.5,16.5) scale(1.05,1)" font-size="22.5" text-anchor="start" fill="#000" style=""  stroke="#000">B</text>
<text transform="translate(-0.6,389) scale(1.05,1)" font-size="20.5" text-anchor="start" fill="#000" style=""  stroke="#000">C</text>
<text transform="translate(536.6,389) scale(1.05,1)" font-size="20.5" text-anchor="start" fill="#000" style=""  stroke="#000">D</text>
<text transform="translate(-1.3,809) scale(1.05,1)" font-size="20.5" text-anchor="start" fill="#000" style=""  stroke="#000">E</text>
<line x1="289.9" y1="382.6" x2="289.9" y2="692.5" stroke="#aaa" stroke-width="1.3" stroke-dasharray="5.5,15.6" stroke-dashoffset="16.5"/>
<path d="M87.5,524.4 C94.7,524.4 121.9,524.8 130.4,524.5 C138.9,524.2 135.5,524.7 138.5,522.4 C141.5,520.1 145.8,512.3 148.6,510.7 C151.4,509.1 153,511.8 155.2,512.7 C157.4,513.7 159.8,517.1 161.7,516.4 C163.6,515.7 164.9,511.8 166.8,508.3 C168.7,504.8 170.7,498.7 172.9,495.2 C175.1,491.7 177.7,487.8 180,487.1 C182.3,486.4 185.2,488.4 187,491.1 C188.8,493.8 188.9,498.8 191.1,503.2 C193.3,507.6 197.8,515.2 200.1,517.4 C202.4,519.6 203.5,516.3 205,516.2 C206.5,516.1 207.8,517.3 209,517 C210.2,516.7 210.9,514.5 212,514.5 C213.1,514.5 214.1,517.1 215.3,517 C216.5,516.9 218,514.3 219.3,514 C220.7,513.7 221,515.9 223.4,515.4 C225.8,514.9 230.8,514 233.5,511.3 C236.2,508.6 236.9,499.9 239.6,499.2 C242.3,498.5 247,507 249.7,507.3 C252.4,507.6 253.7,501.7 255.7,501.2 C257.7,500.7 260.1,506.1 261.8,504.3 C263.5,502.5 264,492.1 265.8,490.1 C267.6,488.1 270.9,490.6 272.9,492.1 C274.9,493.6 276.1,494.4 277.7,499.2 C279.3,504 281.3,516.7 282.5,520.9 C283.7,525.1 283.4,523.9 285,524.5 C286.6,525.1 290.1,525.3 292.1,524.5 C294.1,523.7 295.3,520.8 296.9,519.7 C298.5,518.6 299.9,518.7 301.7,518 C303.5,517.3 305.8,515.5 307.7,515.6 C309.6,515.7 311.2,517.8 313,518.5 C314.8,519.2 317.1,519.9 318.6,519.7 C320.1,519.5 320.6,517.8 322.2,517.3 C323.8,516.8 326.2,516.3 328.2,516.6 C330.2,516.9 332.2,518.5 334.2,519 C336.2,519.5 338.2,520.2 340.2,519.7 C342.2,519.2 344.4,516 346.2,516.1 C348,516.2 349.5,520.4 351.1,520.4 C352.7,520.4 354.2,516 355.9,516.1 C357.6,516.2 359.4,520.7 361.2,520.9 C363,521.1 365,517.2 366.7,517.3 C368.4,517.4 370.1,521.2 371.5,521.4 C372.9,521.6 374.2,520.4 375.1,518.5 C376.1,516.6 376.3,516.4 377.2,510 C378.1,503.6 379.4,490.8 380.5,480 C381.6,469.2 382.5,455.3 383.5,445 C384.5,434.7 385.5,425.2 386.6,418 C387.7,410.8 388.9,401.5 390.1,401.5 C391.3,401.5 392.6,409.9 393.7,418 C394.8,426.1 395.8,438 396.7,450 C397.6,462 398.2,478.4 398.9,490 C399.6,501.6 399.4,514.5 401,519.5 C402.6,524.5 405.9,520 408.8,519.7 C411.7,519.5 416,519 418.4,518 C420.8,517 421.4,514.8 423.2,513.7 C425,512.6 427.1,512.9 429.3,511.3 C431.5,509.7 434.3,504.1 436.5,504.1 C438.7,504.1 440.3,511.1 442.5,511.3 C444.7,511.5 447.3,505.3 449.7,505.3 C452.1,505.3 454.3,511.6 456.9,511.3 C459.5,511 463,504.4 465.4,503.6 C467.8,502.8 469.6,506.2 471.4,506.5 C473.2,506.8 474.6,503.7 476.2,505.3 C477.8,506.9 478.6,512.9 481,516.1 C483.4,519.3 489,523.1 490.6,524.5" fill="none" stroke="#e02828" stroke-width="2.9" stroke-linejoin="round" stroke-linecap="round"/>
<path d="M130.4,525.5 C131.8,525.8 135.5,525.1 138.5,527.5 C141.5,529.9 144.5,538.6 148.6,539.6 C152.7,540.6 159.8,533.8 162.8,533.6 C165.8,533.4 165.1,535.4 166.8,538.6 C168.5,541.8 170.7,548.8 172.9,552.8 C175.1,556.8 177.7,561.9 180,562.9 C182.3,563.9 185.2,561.5 187,558.8 C188.8,556.1 188.9,550.9 191.1,546.7 C193.3,542.5 197.8,536 200.1,533.6 C202.4,531.2 203.5,532.4 205,532.6 C206.5,532.8 207.8,534.6 209,534.6 C210.2,534.6 210.8,532.8 212,532.9 C213.2,533 214.5,535.2 216,535.5 C217.5,535.8 218.4,534.4 221,534.9 C223.6,535.4 228.4,536 231.5,538.6 C234.6,541.2 236.6,550 239.6,550.7 C242.6,551.4 247,543.2 249.7,542.7 C252.4,542.2 253.7,547.2 255.7,547.7 C257.7,548.2 259.9,543.9 261.8,545.7 C263.7,547.6 265,556.9 266.8,558.8 C268.6,560.6 271,559.8 272.9,556.8 C274.8,553.8 276.4,545.6 278,540.6 C279.6,535.6 281.3,529.6 282.5,527 C283.7,524.4 283.4,525 285,524.8 C286.6,524.6 290.1,525 292.1,525.7 C294.1,526.5 295.1,528.3 296.9,529.3 C298.7,530.3 301.1,530.9 302.9,531.7 C304.7,532.5 305.9,534.2 307.7,534.1 C309.5,534 311.8,531.3 313.8,531 C315.8,530.7 317.6,532.6 319.8,532.5 C322,532.4 324.8,530.5 327,530.5 C329.2,530.5 330.8,532.7 333,532.5 C335.2,532.3 338,529.1 340.2,529.3 C342.4,529.4 344.4,533.6 346.2,533.4 C348,533.2 349.3,528.2 351.1,528.1 C352.9,528 355.3,532.5 357.1,532.5 C358.9,532.5 360.1,528.2 361.9,528.1 C363.7,528 366.3,531.7 367.9,531.7 C369.5,531.7 370.3,528.5 371.5,528.1 C372.7,527.7 374.1,527.8 375.1,529.3 C376.1,530.8 376.6,531 377.5,537 C378.4,543 379.2,554.5 380.3,565 C381.4,575.5 382.9,589.2 384,600 C385.1,610.8 386,622 387,630 C388,638 389.1,648.1 390.1,648.1 C391.1,648.1 392.2,638 393.2,630 C394.2,622 395.1,611.7 396,600 C396.9,588.3 397.6,571.6 398.4,560 C399.2,548.4 399.2,535.3 400.9,530.2 C402.6,525.1 405.9,529 408.8,529.3 C411.7,529.5 415.2,530.3 418.4,531.7 C421.6,533.1 425.1,535.5 428.1,537.7 C431.1,539.9 434.1,544.8 436.5,545 C438.9,545.2 440.3,539.2 442.5,539 C444.7,538.8 447.3,543.8 449.7,543.8 C452.1,543.8 454.5,538.8 456.9,539 C459.3,539.2 461.8,544.6 464.2,545 C466.6,545.4 469.4,541.8 471.4,541.4 C473.4,541 474.4,544 476.2,542.6 C478,541.2 479.8,535.9 482.2,532.9 C484.6,529.9 489.2,525.9 490.6,524.5" fill="none" stroke="#e02828" stroke-width="2.9" stroke-linejoin="round" stroke-linecap="round"/>
<rect x="106.2" y="570" width="164.6" height="117" fill="#fff" stroke="none"/>
<line x1="109.2" y1="627.6" x2="270.8" y2="627.6" stroke="#c4c4c4" stroke-width="1.7" stroke-dasharray="2.2,9.4"/>
<line x1="188.4" y1="573" x2="188.4" y2="687" stroke="#c4c4c4" stroke-width="1.7" stroke-dasharray="2.2,9.4"/>
<path d="M106.1,594.7 C107.8,595.2 113.9,597.8 116.5,597.8 C119.1,597.8 119,598.2 121.7,594.7 C124.4,591.2 129.6,579.5 132.9,577 C136.2,574.5 139.3,579 141.6,579.4 C143.9,579.8 145.1,578.6 146.8,579.4 C148.5,580.2 150.3,581.8 152,584.3 C153.7,586.8 155.5,590.7 157.2,594.7 C158.9,598.7 160.5,604 162.4,608.5 C164.3,613 166.4,618.3 168.4,621.5 C170.4,624.7 171.2,626.5 174.5,627.6 C177.8,628.7 184.7,627.9 188.4,627.9 C192.2,627.9 194.4,628.8 197,627.9 C199.6,627 201.8,623.9 204,622.4 C206.2,620.9 207.7,619 210,618.9 C212.3,618.8 214.8,622.2 217.8,621.5 C220.8,620.8 225.3,615.6 228.2,614.6 C231.1,613.6 233.1,615.7 235.1,615.8 C237.1,615.9 237.7,614.2 240.3,615.4 C242.9,616.5 247.2,622.1 250.7,622.7 C254.2,623.3 257.8,619 261.1,618.9 C264.4,618.8 269.1,621.8 270.7,622.4" fill="none" stroke="#e02828" stroke-width="2.4" stroke-linejoin="round" stroke-linecap="round"/>
<path d="M106.1,662.2 C107.8,661.6 113.9,658.8 116.5,658.8 C119.1,658.8 119.1,658.8 121.7,662.2 C124.3,665.6 128.8,676.8 132.1,679.2 C135.4,681.6 139.1,676.9 141.6,676.4 C144.1,675.9 145.1,677.3 146.8,676.4 C148.5,675.5 150.3,673.5 152,670.9 C153.7,668.2 155.5,664.5 157.2,660.5 C158.9,656.5 160.5,650.9 162.4,646.6 C164.3,642.3 166.4,637.5 168.4,634.5 C170.4,631.5 171.2,629.8 174.5,628.8 C177.8,627.8 184.7,628.5 188.4,628.4 C192.2,628.3 194.4,627.4 197,628.4 C199.6,629.4 201.8,633 204,634.5 C206.2,636 207.7,637.1 210,637.1 C212.3,637.1 214.8,633.9 217.8,634.8 C220.8,635.7 225.3,641.4 228.2,642.3 C231.1,643.2 233.1,640.3 235.1,640 C237.1,639.7 237.7,641.7 240.3,640.6 C242.9,639.5 247.2,634.3 250.7,633.6 C254.2,632.9 257.8,636.6 261.1,636.6 C264.4,636.6 269.1,634.1 270.7,633.6" fill="none" stroke="#e02828" stroke-width="2.4" stroke-linejoin="round" stroke-linecap="round"/>
<rect x="106.2" y="570" width="164.6" height="117" fill="none" stroke="#111" stroke-width="2.2"/>
<line x1="262.3" y1="590" x2="262.3" y2="582.5" stroke="#808080" stroke-width="2.2" stroke-linecap="round"/><path d="M262.3,576.5 L264.9,582.5 L259.7,582.5 Z" fill="#808080"/>
<line x1="262.3" y1="666" x2="262.3" y2="673.5" stroke="#808080" stroke-width="2.2" stroke-linecap="round"/><path d="M262.3,679.5 L264.9,673.5 L259.7,673.5 Z" fill="#808080"/>
<line x1="463" y1="437.5" x2="463" y2="408.8" stroke="#808080" stroke-width="2.5" stroke-linecap="round"/><path d="M463,398.8 L466.5,408.8 L459.5,408.8 Z" fill="#808080"/>
<line x1="463" y1="636" x2="463" y2="663.8" stroke="#808080" stroke-width="2.5" stroke-linecap="round"/><path d="M463,673.8 L466.5,663.8 L459.5,663.8 Z" fill="#808080"/>
<rect x="87.5" y="380.6" width="404.7" height="311.9" fill="none" stroke="#111" stroke-width="2.5" stroke-linejoin="round"/>
<line x1="81.5" y1="692.3" x2="87.5" y2="692.3" stroke="#111" stroke-width="2.4"/>
<line x1="77" y1="668.3" x2="87.5" y2="668.3" stroke="#111" stroke-width="2.4"/>
<text transform="translate(67.7,674.9) scale(1.08,1)" font-size="18.5" text-anchor="end" fill="#000" style=""  stroke="#000">-120</text>
<line x1="81.5" y1="644.3" x2="87.5" y2="644.3" stroke="#111" stroke-width="2.4"/>
<line x1="77" y1="620.3" x2="87.5" y2="620.3" stroke="#111" stroke-width="2.4"/>
<text transform="translate(67.7,626.9) scale(1.08,1)" font-size="18.5" text-anchor="end" fill="#000" style=""  stroke="#000">-80</text>
<line x1="81.5" y1="596.3" x2="87.5" y2="596.3" stroke="#111" stroke-width="2.4"/>
<line x1="77" y1="572.3" x2="87.5" y2="572.3" stroke="#111" stroke-width="2.4"/>
<text transform="translate(67.7,578.9) scale(1.08,1)" font-size="18.5" text-anchor="end" fill="#000" style=""  stroke="#000">-40</text>
<line x1="81.5" y1="548.3" x2="87.5" y2="548.3" stroke="#111" stroke-width="2.4"/>
<line x1="77" y1="524.3" x2="87.5" y2="524.3" stroke="#111" stroke-width="2.4"/>
<text transform="translate(67.7,530.9) scale(1.08,1)" font-size="18.5" text-anchor="end" fill="#000" style=""  stroke="#000">0</text>
<line x1="81.5" y1="500.3" x2="87.5" y2="500.3" stroke="#111" stroke-width="2.4"/>
<line x1="77" y1="476.3" x2="87.5" y2="476.3" stroke="#111" stroke-width="2.4"/>
<text transform="translate(67.7,482.9) scale(1.08,1)" font-size="18.5" text-anchor="end" fill="#000" style=""  stroke="#000">40</text>
<line x1="81.5" y1="452.3" x2="87.5" y2="452.3" stroke="#111" stroke-width="2.4"/>
<line x1="77" y1="428.3" x2="87.5" y2="428.3" stroke="#111" stroke-width="2.4"/>
<text transform="translate(67.7,434.9) scale(1.08,1)" font-size="18.5" text-anchor="end" fill="#000" style=""  stroke="#000">80</text>
<line x1="81.5" y1="404.3" x2="87.5" y2="404.3" stroke="#111" stroke-width="2.4"/>
<line x1="77" y1="380.3" x2="87.5" y2="380.3" stroke="#111" stroke-width="2.4"/>
<text transform="translate(67.7,386.9) scale(1.08,1)" font-size="18.5" text-anchor="end" fill="#000" style=""  stroke="#000">120</text>
<line x1="87.5" y1="692.5" x2="87.5" y2="702.5" stroke="#111" stroke-width="2.4"/>
<text transform="translate(87.5,728.9) scale(1.08,1)" font-size="18.5" text-anchor="middle" fill="#000" style=""  stroke="#000">-9</text>
<line x1="121.2" y1="692.5" x2="121.2" y2="698.5" stroke="#111" stroke-width="2.4"/>
<line x1="154.9" y1="692.5" x2="154.9" y2="702.5" stroke="#111" stroke-width="2.4"/>
<text transform="translate(154.9,728.9) scale(1.08,1)" font-size="18.5" text-anchor="middle" fill="#000" style=""  stroke="#000">-6</text>
<line x1="188.7" y1="692.5" x2="188.7" y2="698.5" stroke="#111" stroke-width="2.4"/>
<line x1="222.4" y1="692.5" x2="222.4" y2="702.5" stroke="#111" stroke-width="2.4"/>
<text transform="translate(222.4,728.9) scale(1.08,1)" font-size="18.5" text-anchor="middle" fill="#000" style=""  stroke="#000">-3</text>
<line x1="256.1" y1="692.5" x2="256.1" y2="698.5" stroke="#111" stroke-width="2.4"/>
<line x1="289.9" y1="692.5" x2="289.9" y2="702.5" stroke="#111" stroke-width="2.4"/>
<text transform="translate(289.9,728.9) scale(1.08,1)" font-size="18.5" text-anchor="middle" fill="#000" style=""  stroke="#000">0</text>
<line x1="323.6" y1="692.5" x2="323.6" y2="698.5" stroke="#111" stroke-width="2.4"/>
<line x1="357.3" y1="692.5" x2="357.3" y2="702.5" stroke="#111" stroke-width="2.4"/>
<text transform="translate(357.3,728.9) scale(1.08,1)" font-size="18.5" text-anchor="middle" fill="#000" style=""  stroke="#000">3</text>
<line x1="391" y1="692.5" x2="391" y2="698.5" stroke="#111" stroke-width="2.4"/>
<line x1="424.8" y1="692.5" x2="424.8" y2="702.5" stroke="#111" stroke-width="2.4"/>
<text transform="translate(424.8,728.9) scale(1.08,1)" font-size="18.5" text-anchor="middle" fill="#000" style=""  stroke="#000">6</text>
<line x1="458.5" y1="692.5" x2="458.5" y2="698.5" stroke="#111" stroke-width="2.4"/>
<line x1="492.2" y1="692.5" x2="492.2" y2="702.5" stroke="#111" stroke-width="2.4"/>
<text transform="translate(492.2,728.9) scale(1.08,1)" font-size="18.5" text-anchor="middle" fill="#000" style=""  stroke="#000">9</text>
<text transform="translate(247.5,757.4) scale(1.065,1)" font-size="18.5" style="font-style:italic" fill="#000" stroke="#000">E-E<tspan font-size="11.5" dy="6.5">F</tspan><tspan dy="-6.5"> (eV)</tspan></text>
<text transform="translate(17.4,541) rotate(-90)" font-size="22" text-anchor="middle" style="font-style:italic" fill="#000" stroke="#000">TDOS</text>
<text transform="translate(103.5,412.7) scale(1.04,1)" font-size="19" fill="#dc1c24" style="font-style:italic" stroke="#dc1c24">LaCoO<tspan font-size="11.5" dy="5">3</tspan></text>
<line x1="829.6" y1="382.6" x2="829.6" y2="692.5" stroke="#aaa" stroke-width="1.3" stroke-dasharray="5.5,15.6" stroke-dashoffset="16.5"/>
<path d="M623.8,523.9 C626.5,523.8 636.8,524 640.1,523.2 C643.5,522.4 642.6,518.9 643.9,518.9 C645.1,518.9 646.1,523 647.6,523.2 C649.1,523.4 651.1,523.4 652.6,520.2 C654.1,517 654.7,505.1 656.4,503.9 C658.1,502.6 660.3,512.1 662.6,512.7 C664.9,513.3 668,508.7 670.1,507.6 C672.2,506.6 673.4,506.5 675.1,506.4 C676.8,506.3 678.5,507.5 680.2,507.1 C681.9,506.7 683.5,504 685.2,503.9 C686.9,503.8 687.7,507.2 690.2,506.4 C692.7,505.6 697.7,499.5 700.2,498.9 C702.7,498.3 703.1,500.7 705.2,502.6 C707.3,504.5 710.8,507.9 712.7,510.2 C714.6,512.5 714.3,515.9 716.4,516.4 C718.5,516.9 722.9,513.4 725.2,513.2 C727.5,513 728.3,513.8 730.2,515.2 C732.1,516.6 734.4,521.6 736.5,521.4 C738.6,521.2 739.6,516 742.7,513.9 C745.8,511.8 751.7,511.6 755.2,508.9 C758.8,506.2 761.5,499.3 764,497.6 C766.5,495.9 767.5,499.7 770.2,498.9 C772.9,498.1 777.1,493.3 780,492.6 C782.9,491.9 785.4,492.2 787.5,494.6 C789.6,497 790.9,504.2 792.5,507.1 C794.1,510 795.5,511.7 797.4,512 C799.3,512.3 802,508.4 803.7,509 C805.4,509.6 806,514.5 807.4,515.8 C808.8,517 810.7,515.9 812.4,516.5 C814.1,517.1 815.5,519.3 817.4,519.5 C819.3,519.7 821.5,517.6 823.6,517.5 C825.7,517.4 827.6,518.7 829.9,519 C832.2,519.3 834.6,519.8 837.3,519.5 C840,519.2 843.6,516.8 846.1,517 C848.6,517.2 850,520.4 852.3,520.8 C854.6,521.2 857.1,520 859.8,519.5 C862.5,519 866,517.3 868.5,517.5 C871,517.7 872,520 874.7,520.8 C877.4,521.5 881.6,521.5 884.7,522 C887.8,522.5 890.5,524.4 893.4,524 C896.3,523.6 899.8,526.1 902.1,519.5 C904.4,512.9 905.4,497.5 907.1,484.6 C908.8,471.7 910.4,456 912.1,442.3 C913.9,428.6 915.9,402.6 917.6,402.6 C919.3,402.6 920.5,424.5 922.1,442.3 C923.7,460.1 925.9,496.8 927.1,509.6 C928.4,522.4 927.5,517.5 929.6,519 C931.7,520.5 936.2,519.2 939.5,518.3 C942.8,517.3 946.6,514.8 949.5,513.3 C952.4,511.8 954.3,511.3 957,509.6 C959.7,507.9 963.4,503.1 965.7,503.3 C968,503.5 968.4,510.7 970.7,510.8 C973,510.9 976.9,504.3 979.4,504.1 C981.9,503.9 983.1,509.9 985.6,509.6 C988.1,509.4 991.9,503 994.4,502.6 C996.9,502.2 998.7,506.4 1000.6,507.1 C1002.5,507.9 1003.5,505 1005.6,507.1 C1007.7,509.2 1010.1,516.6 1013,519.5 C1015.9,522.4 1019.5,523.9 1023,524.5 C1026.5,525.1 1032.3,523.5 1034.2,523.3" fill="none" stroke="#e6df12" stroke-width="2.9" stroke-linejoin="round" stroke-linecap="round"/>
<path d="M623.8,523.9 C629,523.9 648.6,523.7 655.1,523.9 C661.6,524.1 660.1,524.4 662.6,525.2 C665.1,526 667.2,527.5 670.1,528.9 C673,530.3 676.9,533.3 680.2,533.9 C683.6,534.5 686.9,532.1 690.2,532.7 C693.5,533.3 697.7,534.8 700.2,537.7 C702.7,540.6 703.8,546.8 705.2,550.2 C706.7,553.6 706.4,558 708.9,558 C711.4,558 716.7,553.6 720.2,550.2 C723.8,546.8 726.9,540.2 730.2,537.7 C733.5,535.2 736.9,535.6 740.2,535.2 C743.5,534.8 746.9,534.6 750.2,535.2 C753.5,535.8 756.9,536.6 760.2,538.9 C763.5,541.2 767.9,546.8 770.2,548.9 C772.5,551 772.3,553.1 774,551.4 C775.7,549.7 778,540.5 780.2,538.5 C782.5,536.5 785.2,540.4 787.5,539.5 C789.8,538.6 791.8,533.4 793.7,533.2 C795.6,533 796.8,536.3 798.7,538.2 C800.6,540.1 803.5,543 804.9,544.4 C806.3,545.8 805.3,549 807.4,546.9 C809.5,544.8 814.7,535.9 817.4,532 C820.1,528.1 821.5,525 823.6,523.3 C825.7,521.6 827.4,522 829.9,522 C832.4,522 836.5,521.6 838.6,523.3 C840.7,525 840.6,528.3 842.3,532 C843.9,535.7 846.4,545.3 848.5,545.7 C850.6,546.1 852.1,536.6 854.8,534.5 C857.5,532.4 861.4,534 864.7,533.2 C868,532.4 871.4,530.1 874.7,529.5 C878,528.9 882,529.7 884.7,529.5 C887.4,529.3 888.8,527.8 890.9,528.2 C893,528.6 895,531 897.1,532 C899.2,533 901.7,531.6 903.4,534.5 C905.1,537.4 905.8,542.6 907.1,549.4 C908.4,556.1 909.5,564.1 911,575 C912.5,585.9 914.4,602.1 915.8,614.8 C917.2,627.4 918.4,650.9 919.6,650.9 C920.9,650.9 922.3,627 923.3,614.8 C924.3,602.5 925,589.9 925.8,577.4 C926.6,564.9 927.7,548.2 928.3,540 C928.9,531.8 927.7,530 929.6,528.2 C931.5,526.5 935.4,528.5 939.5,529.5 C943.6,530.5 950.4,532.2 954.5,534.5 C958.6,536.8 961.9,541.6 964.4,543.2 C966.9,544.9 967.3,545.4 969.4,544.4 C971.5,543.4 974.4,537.2 976.9,537 C979.4,536.8 981.5,543 984.4,543.2 C987.3,543.4 991.9,538 994.4,538.2 C996.9,538.4 997.4,543.8 999.3,544.4 C1001.2,545 1003.9,542.5 1005.6,541.9 C1007.3,541.3 1007.4,543 1009.3,540.7 C1011.2,538.4 1014.3,530.9 1016.8,528.2 C1019.3,525.5 1021.4,525.3 1024.3,524.5 C1027.2,523.7 1032.5,523.5 1034.2,523.3" fill="none" stroke="#e6df12" stroke-width="2.9" stroke-linejoin="round" stroke-linecap="round"/>
<rect x="642.6" y="569" width="168.2" height="118" fill="#fff" stroke="none"/>
<line x1="645.6" y1="616.3" x2="810.8" y2="616.3" stroke="#c4c4c4" stroke-width="1.7" stroke-dasharray="2.2,9.4"/>
<line x1="726.4" y1="572" x2="726.4" y2="687" stroke="#c4c4c4" stroke-width="1.7" stroke-dasharray="2.2,9.4"/>
<path d="M642.6,585 C643.4,585.2 645.7,586.9 647.6,586.3 C649.5,585.7 651.6,583.3 653.9,581.3 C656.2,579.3 659.1,574.7 661.4,574.5 C663.7,574.3 665.5,576.1 667.6,580 C669.7,583.9 672.2,594.2 673.9,597.6 C675.6,601 676.1,600.3 677.6,600.1 C679.1,599.9 681,597.2 682.7,596.3 C684.4,595.4 686,594.2 687.7,594.6 C689.4,595 690.2,596.8 692.7,598.8 C695.2,600.8 699.8,605.2 702.7,606.3 C705.6,607.3 707.7,605.9 710.2,605.1 C712.7,604.3 715.2,602.3 717.7,601.3 C720.2,600.2 723.1,598.8 725.2,598.8 C727.3,598.8 728.5,600.2 730.2,601.3 C731.9,602.4 733.5,604.6 735.2,605.6 C736.9,606.6 737.7,607.3 740.2,607.1 C742.7,606.9 747.3,605.7 750.2,604.6 C753.1,603.5 755.2,601.9 757.7,600.6 C760.2,599.4 763.1,597 765.2,597.1 C767.3,597.2 768.1,599.3 770.2,601.3 C772.3,603.2 774.8,607.9 777.7,608.8 C780.6,609.7 784.6,607.5 787.5,606.8 C790.4,606 792.1,603.8 795,604.3 C797.9,604.8 802.3,608.3 804.9,609.8 C807.5,611.3 809.7,612.9 810.7,613.5" fill="none" stroke="#e6df12" stroke-width="2.4" stroke-linejoin="round" stroke-linecap="round"/>
<path d="M642.6,643.9 C643.4,646.2 645.1,654.5 647.6,657.6 C650.1,660.7 655.1,660.9 657.6,662.6 C660.1,664.3 660.3,665.1 662.6,667.6 C664.9,670.1 668.9,677.2 671.4,677.6 C673.9,678 675.3,673.9 677.6,670.1 C679.9,666.4 682.7,660.9 685.2,655.1 C687.7,649.3 690.2,641 692.7,635.1 C695.2,629.2 698.1,622.7 700.2,619.6 C702.3,616.5 701.9,617 705.2,616.3 C708.5,615.6 713.5,615.6 720.2,615.6 C726.9,615.6 740,616 745.2,616.3 C750.4,616.6 749.4,615.3 751.5,617.6 C753.6,619.9 755.8,624.3 757.7,630.1 C759.6,635.9 760.6,645.1 762.7,652.6 C764.8,660.1 768.3,670.7 770.2,675.1 C772.1,679.5 772.3,678.7 774,678.9 C775.7,679.1 778.4,679.6 780.2,676.4 C782,673.2 783.4,664.9 785,659.6 C786.6,654.3 787.9,647.6 790,644.7 C792.1,641.8 793.9,642.6 797.4,642.2 C800.9,641.8 808.5,642.2 810.7,642.2" fill="none" stroke="#e6df12" stroke-width="2.4" stroke-linejoin="round" stroke-linecap="round"/>
<rect x="642.6" y="569" width="168.2" height="118" fill="none" stroke="#111" stroke-width="2.2"/>
<line x1="797.4" y1="589" x2="797.4" y2="581.5" stroke="#808080" stroke-width="2.2" stroke-linecap="round"/><path d="M797.4,575.5 L800,581.5 L794.8,581.5 Z" fill="#808080"/>
<line x1="797.4" y1="666" x2="797.4" y2="673.5" stroke="#808080" stroke-width="2.2" stroke-linecap="round"/><path d="M797.4,679.5 L800,673.5 L794.8,673.5 Z" fill="#808080"/>
<line x1="1006" y1="437.5" x2="1006" y2="408.8" stroke="#808080" stroke-width="2.5" stroke-linecap="round"/><path d="M1006,398.8 L1009.5,408.8 L1002.5,408.8 Z" fill="#808080"/>
<line x1="1006" y1="636" x2="1006" y2="663.8" stroke="#808080" stroke-width="2.5" stroke-linecap="round"/><path d="M1006,673.8 L1009.5,663.8 L1002.5,663.8 Z" fill="#808080"/>
<rect x="623.8" y="380.6" width="411.7" height="311.9" fill="none" stroke="#111" stroke-width="2.5" stroke-linejoin="round"/>
<line x1="617.8" y1="692.3" x2="623.8" y2="692.3" stroke="#111" stroke-width="2.4"/>
<line x1="613.3" y1="668.3" x2="623.8" y2="668.3" stroke="#111" stroke-width="2.4"/>
<text transform="translate(604,674.9) scale(1.08,1)" font-size="18.5" text-anchor="end" fill="#000" style=""  stroke="#000">-120</text>
<line x1="617.8" y1="644.3" x2="623.8" y2="644.3" stroke="#111" stroke-width="2.4"/>
<line x1="613.3" y1="620.3" x2="623.8" y2="620.3" stroke="#111" stroke-width="2.4"/>
<text transform="translate(604,626.9) scale(1.08,1)" font-size="18.5" text-anchor="end" fill="#000" style=""  stroke="#000">-80</text>
<line x1="617.8" y1="596.3" x2="623.8" y2="596.3" stroke="#111" stroke-width="2.4"/>
<line x1="613.3" y1="572.3" x2="623.8" y2="572.3" stroke="#111" stroke-width="2.4"/>
<text transform="translate(604,578.9) scale(1.08,1)" font-size="18.5" text-anchor="end" fill="#000" style=""  stroke="#000">-40</text>
<line x1="617.8" y1="548.3" x2="623.8" y2="548.3" stroke="#111" stroke-width="2.4"/>
<line x1="613.3" y1="524.3" x2="623.8" y2="524.3" stroke="#111" stroke-width="2.4"/>
<text transform="translate(604,530.9) scale(1.08,1)" font-size="18.5" text-anchor="end" fill="#000" style=""  stroke="#000">0</text>
<line x1="617.8" y1="500.3" x2="623.8" y2="500.3" stroke="#111" stroke-width="2.4"/>
<line x1="613.3" y1="476.3" x2="623.8" y2="476.3" stroke="#111" stroke-width="2.4"/>
<text transform="translate(604,482.9) scale(1.08,1)" font-size="18.5" text-anchor="end" fill="#000" style=""  stroke="#000">40</text>
<line x1="617.8" y1="452.3" x2="623.8" y2="452.3" stroke="#111" stroke-width="2.4"/>
<line x1="613.3" y1="428.3" x2="623.8" y2="428.3" stroke="#111" stroke-width="2.4"/>
<text transform="translate(604,434.9) scale(1.08,1)" font-size="18.5" text-anchor="end" fill="#000" style=""  stroke="#000">80</text>
<line x1="617.8" y1="404.3" x2="623.8" y2="404.3" stroke="#111" stroke-width="2.4"/>
<line x1="613.3" y1="380.3" x2="623.8" y2="380.3" stroke="#111" stroke-width="2.4"/>
<text transform="translate(604,386.9) scale(1.08,1)" font-size="18.5" text-anchor="end" fill="#000" style=""  stroke="#000">120</text>
<line x1="623.8" y1="692.5" x2="623.8" y2="702.5" stroke="#111" stroke-width="2.4"/>
<text transform="translate(623.8,728.9) scale(1.08,1)" font-size="18.5" text-anchor="middle" fill="#000" style=""  stroke="#000">-9</text>
<line x1="658.1" y1="692.5" x2="658.1" y2="698.5" stroke="#111" stroke-width="2.4"/>
<line x1="692.4" y1="692.5" x2="692.4" y2="702.5" stroke="#111" stroke-width="2.4"/>
<text transform="translate(692.4,728.9) scale(1.08,1)" font-size="18.5" text-anchor="middle" fill="#000" style=""  stroke="#000">-6</text>
<line x1="726.7" y1="692.5" x2="726.7" y2="698.5" stroke="#111" stroke-width="2.4"/>
<line x1="761" y1="692.5" x2="761" y2="702.5" stroke="#111" stroke-width="2.4"/>
<text transform="translate(761,728.9) scale(1.08,1)" font-size="18.5" text-anchor="middle" fill="#000" style=""  stroke="#000">-3</text>
<line x1="795.3" y1="692.5" x2="795.3" y2="698.5" stroke="#111" stroke-width="2.4"/>
<line x1="829.6" y1="692.5" x2="829.6" y2="702.5" stroke="#111" stroke-width="2.4"/>
<text transform="translate(829.6,728.9) scale(1.08,1)" font-size="18.5" text-anchor="middle" fill="#000" style=""  stroke="#000">0</text>
<line x1="864" y1="692.5" x2="864" y2="698.5" stroke="#111" stroke-width="2.4"/>
<line x1="898.3" y1="692.5" x2="898.3" y2="702.5" stroke="#111" stroke-width="2.4"/>
<text transform="translate(898.3,728.9) scale(1.08,1)" font-size="18.5" text-anchor="middle" fill="#000" style=""  stroke="#000">3</text>
<line x1="932.6" y1="692.5" x2="932.6" y2="698.5" stroke="#111" stroke-width="2.4"/>
<line x1="966.9" y1="692.5" x2="966.9" y2="702.5" stroke="#111" stroke-width="2.4"/>
<text transform="translate(966.9,728.9) scale(1.08,1)" font-size="18.5" text-anchor="middle" fill="#000" style=""  stroke="#000">6</text>
<line x1="1001.2" y1="692.5" x2="1001.2" y2="698.5" stroke="#111" stroke-width="2.4"/>
<line x1="1035.5" y1="692.5" x2="1035.5" y2="702.5" stroke="#111" stroke-width="2.4"/>
<text transform="translate(1035.5,728.9) scale(1.08,1)" font-size="18.5" text-anchor="middle" fill="#000" style=""  stroke="#000">9</text>
<text transform="translate(785,757.4) scale(1.065,1)" font-size="18.5" style="font-style:italic" fill="#000" stroke="#000">E-E<tspan font-size="11.5" dy="6.5">F</tspan><tspan dy="-6.5"> (eV)</tspan></text>
<text transform="translate(555.7,541) rotate(-90)" font-size="22" text-anchor="middle" style="font-style:italic" fill="#000" stroke="#000">TDOS</text>
<text transform="translate(638.5,412.7) scale(1.04,1)" font-size="19" fill="#e4de24" style="font-style:italic" stroke="#e4de24">LaCo<tspan font-size="11.5" dy="5">0.9</tspan><tspan dy="-5">Fe</tspan><tspan font-size="11.5" dy="-4">0.1</tspan><tspan dy="4">O</tspan><tspan font-size="11.5" dy="5">3</tspan></text>
<text x="20.3" y="876.3" font-size="22.5" fill="#000" stroke="#000">e<tspan font-size="14" dy="7.5">g</tspan></text>
<text x="20.3" y="948.6" font-size="22.5" fill="#000" stroke="#000">t<tspan font-size="14" dy="7">2g</tspan></text>
<text transform="translate(131.2,850.5) scale(1.05,1)" font-size="22.5" fill="#000" stroke="#000">LS Co<tspan font-size="12.5" dy="-7.8">3+</tspan></text>
<line x1="100.3" y1="875.4" x2="165.2" y2="875.4" stroke="#444" stroke-width="1.7"/>
<line x1="180" y1="875.4" x2="245.2" y2="875.4" stroke="#444" stroke-width="1.7"/>
<line x1="89.6" y1="932.5" x2="89.6" y2="960.6" stroke="#f0c8c8" stroke-width="3.4"/><line x1="89.6" y1="932.5" x2="89.6" y2="960.6" stroke="#905050" stroke-width="1.2"/><path d="M89.6,932 l-1.8,5 l3.6,0 z" fill="#502020"/>
<line x1="95.1" y1="932.5" x2="95.1" y2="960.6" stroke="#f0c8c8" stroke-width="3.4"/><line x1="95.1" y1="932.5" x2="95.1" y2="960.6" stroke="#905050" stroke-width="1.2"/><path d="M95.1,961.1 l-1.8,-5 l3.6,0 z" fill="#502020"/>
<line x1="168.9" y1="932.5" x2="168.9" y2="960.6" stroke="#f0c8c8" stroke-width="3.4"/><line x1="168.9" y1="932.5" x2="168.9" y2="960.6" stroke="#905050" stroke-width="1.2"/><path d="M168.9,932 l-1.8,5 l3.6,0 z" fill="#502020"/>
<line x1="174.4" y1="932.5" x2="174.4" y2="960.6" stroke="#f0c8c8" stroke-width="3.4"/><line x1="174.4" y1="932.5" x2="174.4" y2="960.6" stroke="#905050" stroke-width="1.2"/><path d="M174.4,961.1 l-1.8,-5 l3.6,0 z" fill="#502020"/>
<line x1="247.6" y1="932.5" x2="247.6" y2="960.6" stroke="#f0c8c8" stroke-width="3.4"/><line x1="247.6" y1="932.5" x2="247.6" y2="960.6" stroke="#905050" stroke-width="1.2"/><path d="M247.6,932 l-1.8,5 l3.6,0 z" fill="#502020"/>
<line x1="253.1" y1="932.5" x2="253.1" y2="960.6" stroke="#f0c8c8" stroke-width="3.4"/><line x1="253.1" y1="932.5" x2="253.1" y2="960.6" stroke="#905050" stroke-width="1.2"/><path d="M253.1,961.1 l-1.8,-5 l3.6,0 z" fill="#502020"/>
<line x1="58.5" y1="945.7" x2="122.7" y2="945.7" stroke="#444" stroke-width="2.0"/>
<line x1="137.5" y1="945.7" x2="202.4" y2="945.7" stroke="#444" stroke-width="2.0"/>
<line x1="216.6" y1="945.7" x2="281.1" y2="945.7" stroke="#444" stroke-width="2.0"/>
<line x1="294.9" y1="878.6" x2="294.9" y2="945.1" stroke="#333" stroke-width="1.9"/><path d="M294.9,876.6 l-2.1,4.5 l2.1,1.2 l2.1,-1.2 z" fill="#111"/><path d="M294.9,947.1 l-2.1,-4.5 l2.1,-1.2 l2.1,1.2 z" fill="#111"/>
<text x="307" y="918.4" font-size="22" fill="#000" stroke="#000">&#916;<tspan font-size="13" dy="8.6">0</tspan></text>
<text transform="translate(529.5,877.8) scale(1.12,1)" font-size="21.5" text-anchor="middle" fill="#000" stroke="#000">lattice</text>
<text transform="translate(530.2,901.8) scale(1.1,1)" font-size="21.5" text-anchor="middle" fill="#000" stroke="#000">expansion</text>
<line x1="484" y1="919" x2="571" y2="919" stroke="#7a98c8" stroke-width="1.8"/>
<path d="M578,919 l-8,-3.2 l0,6.4 z" fill="#7a98c8"/>
<text transform="translate(833.2,818.2) scale(1.04,1)" font-size="22.5" fill="#000" stroke="#000">HS Co<tspan font-size="12.5" dy="-6.5">3+</tspan></text>
<line x1="876.5" y1="838.3" x2="876.5" y2="870" stroke="#f0c8c8" stroke-width="3.4"/><line x1="876.5" y1="838.3" x2="876.5" y2="870" stroke="#905050" stroke-width="1.2"/><path d="M876.5,837.8 l-1.8,5 l3.6,0 z" fill="#502020"/>
<line x1="876.5" y1="875.5" x2="876.5" y2="906.8" stroke="#f0c8c8" stroke-width="3.4"/><line x1="876.5" y1="875.5" x2="876.5" y2="906.8" stroke="#905050" stroke-width="1.2"/><path d="M876.5,875 l-1.8,5 l3.6,0 z" fill="#502020"/>
<line x1="801.1" y1="917.2" x2="801.1" y2="949.9" stroke="#f0c8c8" stroke-width="3.4"/><line x1="801.1" y1="917.2" x2="801.1" y2="949.9" stroke="#905050" stroke-width="1.2"/><path d="M801.1,916.7 l-1.8,5 l3.6,0 z" fill="#502020"/>
<line x1="950.6" y1="918" x2="950.6" y2="950.5" stroke="#f0c8c8" stroke-width="3.4"/><line x1="950.6" y1="918" x2="950.6" y2="950.5" stroke="#905050" stroke-width="1.2"/><path d="M950.6,917.5 l-1.8,5 l3.6,0 z" fill="#502020"/>
<line x1="876.2" y1="958" x2="876.2" y2="990.6" stroke="#f0c8c8" stroke-width="3.4"/><line x1="876.2" y1="958" x2="876.2" y2="990.6" stroke="#905050" stroke-width="1.2"/><path d="M876.2,957.5 l-1.8,5 l3.6,0 z" fill="#502020"/>
<line x1="881.2" y1="958" x2="881.2" y2="990.6" stroke="#f0c8c8" stroke-width="3.4"/><line x1="881.2" y1="958" x2="881.2" y2="990.6" stroke="#905050" stroke-width="1.2"/><path d="M881.2,991.1 l-1.8,-5 l3.6,0 z" fill="#502020"/>
<line x1="841" y1="855.3" x2="914.7" y2="855.3" stroke="#444" stroke-width="2.3"/>
<line x1="841" y1="889.5" x2="914.7" y2="889.5" stroke="#444" stroke-width="2.3"/>
<line x1="765.3" y1="932.8" x2="839.6" y2="932.8" stroke="#444" stroke-width="2.3"/>
<line x1="915.3" y1="932.8" x2="989.7" y2="932.8" stroke="#444" stroke-width="2.3"/>
<line x1="840.3" y1="972" x2="914.7" y2="972" stroke="#444" stroke-width="2.3"/>
<line x1="754.3" y1="892.2" x2="754.3" y2="932.5" stroke="#333" stroke-width="1.9"/><path d="M754.3,890.2 l-2.1,4.5 l2.1,1.2 l2.1,-1.2 z" fill="#111"/><path d="M754.3,934.5 l-2.1,-4.5 l2.1,-1.2 l2.1,1.2 z" fill="#111"/>
<text x="719.2" y="918.9" font-size="22" fill="#000" stroke="#000">&#916;<tspan font-size="13" dy="7.6">0</tspan></text>
<text x="1014.5" y="875.7" font-size="22.5" fill="#000" stroke="#000">e<tspan font-size="14" dy="7.5">g</tspan></text>
<text x="1014.5" y="948.2" font-size="22.5" fill="#000" stroke="#000">t<tspan font-size="14" dy="7">2g</tspan></text>
<path d="M406,875.6 L445,916 L407.4,953.8 L367,912.7 Z" fill="#d9e3e8"/>
<path d="M406,875.6 L445,916 L407.4,914 Z" fill="#cfdce2"/>
<line x1="406.7" y1="914.7" x2="413.8" y2="909" stroke="#2a2aa0" stroke-width="4.6"/><line x1="413.8" y1="909" x2="420.9" y2="903.2" stroke="#d02a2a" stroke-width="4.6"/>
<circle cx="420.9" cy="903.2" r="6.6" fill="url(#gO)"/>
<line x1="406.7" y1="914.7" x2="406.5" y2="891.5" stroke="#2a2aa0" stroke-width="4.6"/><line x1="406.5" y1="891.5" x2="406.3" y2="868.2" stroke="#d02a2a" stroke-width="4.6"/>
<line x1="406.7" y1="914.7" x2="383.3" y2="913.7" stroke="#2a2aa0" stroke-width="4.6"/><line x1="383.3" y1="913.7" x2="359.9" y2="912.7" stroke="#d02a2a" stroke-width="4.6"/>
<line x1="406.7" y1="914.7" x2="429.6" y2="915.7" stroke="#2a2aa0" stroke-width="4.6"/><line x1="429.6" y1="915.7" x2="452.5" y2="916.7" stroke="#d02a2a" stroke-width="4.6"/>
<line x1="406.7" y1="914.7" x2="406.7" y2="938" stroke="#2a2aa0" stroke-width="4.6"/><line x1="406.7" y1="938" x2="406.7" y2="961.2" stroke="#d02a2a" stroke-width="4.6"/>
<line x1="406.7" y1="914.7" x2="399.3" y2="920.4" stroke="#2a2aa0" stroke-width="4.6"/><line x1="399.3" y1="920.4" x2="391.9" y2="926.1" stroke="#d02a2a" stroke-width="4.6"/>
<circle cx="406.7" cy="914.7" r="10.8" fill="url(#gCo)"/>
<circle cx="406.3" cy="868.2" r="7.2" fill="url(#gO)"/>
<circle cx="359.9" cy="912.7" r="7.2" fill="url(#gO)"/>
<circle cx="452.5" cy="916.7" r="7.2" fill="url(#gO)"/>
<circle cx="406.7" cy="961.2" r="7.2" fill="url(#gO)"/>
<circle cx="391.9" cy="926.1" r="7.0" fill="url(#gO)"/>
<path d="M617.5,884 L684,879 L690,942 L622,946 Z" fill="#e6eef0" stroke="#dfe8ea" stroke-width="1"/>
<line x1="653.5" y1="913.5" x2="668.9" y2="902.6" stroke="#2a2aa0" stroke-width="4.2"/><line x1="668.9" y1="902.6" x2="684.2" y2="891.8" stroke="#d02a2a" stroke-width="4.2"/>
<circle cx="684.2" cy="891.8" r="6.8" fill="url(#gO)"/>
<line x1="653.5" y1="913.5" x2="641.9" y2="929.1" stroke="#2a2aa0" stroke-width="4.2"/><line x1="641.9" y1="929.1" x2="630.2" y2="944.7" stroke="#d02a2a" stroke-width="4.2"/>
<circle cx="630.2" cy="944.7" r="6.8" fill="url(#gO)"/>
<line x1="653.5" y1="913.5" x2="634.2" y2="895.8" stroke="#2a2aa0" stroke-width="4.2"/><line x1="634.2" y1="895.8" x2="614.9" y2="878" stroke="#d02a2a" stroke-width="4.2"/>
<line x1="653.5" y1="913.5" x2="664.9" y2="898.1" stroke="#2a2aa0" stroke-width="4.2"/><line x1="664.9" y1="898.1" x2="676.3" y2="882.8" stroke="#d02a2a" stroke-width="4.2"/>
<line x1="653.5" y1="913.5" x2="638.1" y2="924.4" stroke="#2a2aa0" stroke-width="4.2"/><line x1="638.1" y1="924.4" x2="622.8" y2="935.2" stroke="#d02a2a" stroke-width="4.2"/>
<line x1="653.5" y1="913.5" x2="672.5" y2="931.2" stroke="#2a2aa0" stroke-width="4.2"/><line x1="672.5" y1="931.2" x2="691.6" y2="948.9" stroke="#d02a2a" stroke-width="4.2"/>
<circle cx="653.5" cy="913.5" r="12.3" fill="url(#gCo)"/>
<circle cx="614.9" cy="878" r="7.3" fill="url(#gO)"/>
<circle cx="676.3" cy="882.8" r="7.3" fill="url(#gO)"/>
<circle cx="622.8" cy="935.2" r="7.3" fill="url(#gO)"/>
<circle cx="691.6" cy="948.9" r="7.3" fill="url(#gO)"/>
</svg>
</body></html>
